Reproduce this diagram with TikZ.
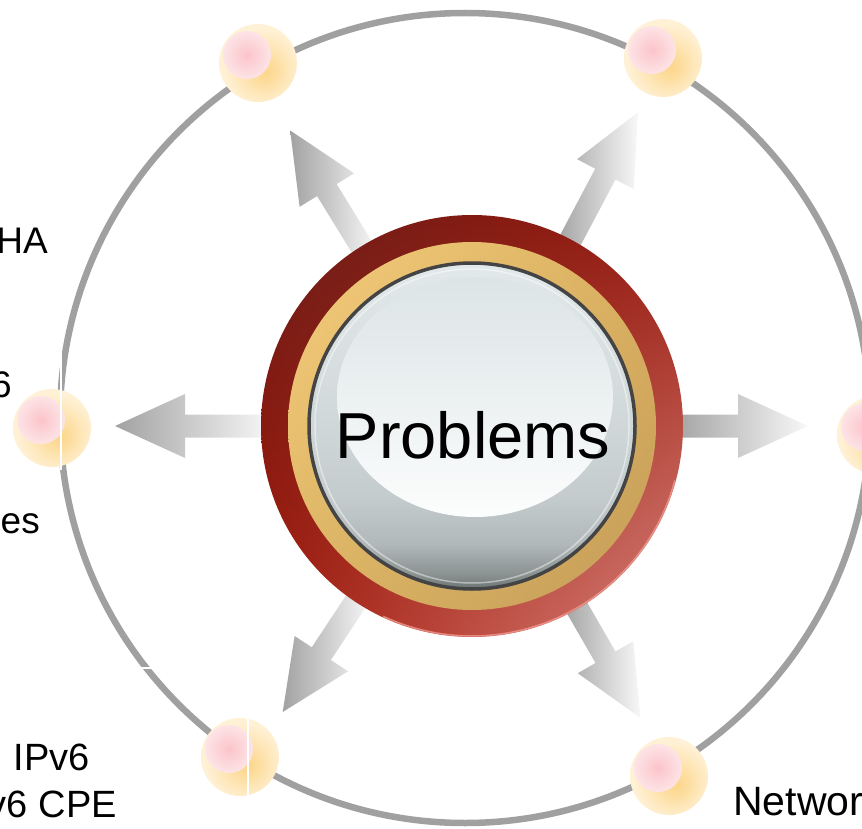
\documentclass[tikz,border=0pt]{standalone}
\usepackage{fontspec}
\setmainfont{Liberation Sans}
\usetikzlibrary{calc,shadings}

% palette
\definecolor{ringgray}{HTML}{A0A0A0}
\definecolor{arrowdark}{HTML}{A2A2A2}
\definecolor{arrowlight}{HTML}{F8F8F8}
\definecolor{bubA}{HTML}{FCD68A}
\definecolor{bubB}{HTML}{FDE0A6}
\definecolor{bubC}{HTML}{FFF1D6}
\definecolor{pinkA}{HTML}{FBC4CA}
\definecolor{pinkB}{HTML}{FDE4E6}
\definecolor{discA}{HTML}{6C7474}
\definecolor{discB}{HTML}{8A9292}
\definecolor{discC}{HTML}{B0B8B9}
\definecolor{discD}{HTML}{C3CBCC}
\definecolor{discE}{HTML}{CFD7D9}
\definecolor{discF}{HTML}{E2E9EB}
\definecolor{glossTop}{HTML}{DCE4E6}
\definecolor{glossBot}{HTML}{FCFDFD}
\definecolor{bezel}{HTML}{444444}
\definecolor{redUL}{HTML}{6A1C17}
\definecolor{redUR}{HTML}{9A1A0E}
\definecolor{redLL}{HTML}{A4180A}
\definecolor{redLR}{HTML}{D8837B}
\definecolor{redrim}{HTML}{F29A92}
\definecolor{goldUL}{HTML}{F4CC7C}
\definecolor{goldUR}{HTML}{DAB060}
\definecolor{goldLL}{HTML}{DCB464}
\definecolor{goldLR}{HTML}{C49C58}

% soft glow of the small marker balls (edge of the circle = 25bp)
\pgfdeclareradialshading{bubbleglow}{\pgfpoint{5bp}{-6bp}}{%
  color(0bp)=(bubA); color(10bp)=(bubB); color(25bp)=(bubC); color(50bp)=(bubC)}
\pgfdeclareradialshading{pinkglow}{\pgfpoint{0bp}{0bp}}{%
  color(0bp)=(pinkA); color(25bp)=(pinkB); color(50bp)=(pinkB)}
% face of the central button, dark at the bottom, pale at the top
\pgfdeclareverticalshading{discfill}{100bp}{%
  color(0bp)=(discA); color(25bp)=(discA); color(27.3bp)=(discB);
  color(31.9bp)=(discC); color(38.8bp)=(discD); color(50bp)=(discE);
  color(75bp)=(discF); color(100bp)=(discF)}

\tikzset{
  ring/.style={draw=ringgray, line width=6.5pt},
  arrowshade/.style={left color=arrowdark, right color=arrowlight},
  bubble/.style={circle, inner sep=0pt, minimum size=78pt, shade, shading=bubbleglow},
  hubred/.style={circle, inner sep=0pt, minimum size=422pt, shade,
    upper left=redUL, upper right=redUR, lower left=redLL, lower right=redLR},
  hubgold/.style={circle, inner sep=0pt, minimum size=368pt, shade,
    upper left=goldUL, upper right=goldUR, lower left=goldLL, lower right=goldLR},
  hubdisc/.style={circle, inner sep=0pt, minimum size=326pt, shade, shading=discfill,
    draw=bezel, line width=3.5pt},
  lbl/.style={inner sep=0pt, text=black},
}

\newcommand\markerball[3]{%
  \node[bubble] (#1) at (#2,#3) {};
  \shade[shading=pinkglow] ($(#1)+(-11,-8)$) circle[radius=24];
}

\begin{document}
\begin{tikzpicture}[x=1pt, y=-1pt]
\useasboundingbox (0,0) rectangle (862,829);

% outer orbit
\coordinate (orbit) at (465,418);
\draw[ring] (orbit) circle[radius=405];

% radiating arrows (angles measured clockwise from the right)
\coordinate (hubc) at (472,426);
\foreach \ang/\len in {180/357, -121.6/347, -62.1/355, 0/336, 123.5/343, 60/337}{
  \shade[arrowshade]
    ($(hubc)+(\ang:200)+(\ang+90:11.5)$) --
    ($(hubc)+(\ang:\len-70)+(\ang+90:11.5)$) --
    ($(hubc)+(\ang:\len-70)+(\ang+90:32)$) --
    ($(hubc)+(\ang:\len)$) --
    ($(hubc)+(\ang:\len-70)+(\ang-90:32)$) --
    ($(hubc)+(\ang:\len-70)+(\ang-90:11.5)$) --
    ($(hubc)+(\ang:200)+(\ang-90:11.5)$) -- cycle;
}

% central button
\node[hubred] (hub) at (hubc) {};
\draw[redrim, line width=1.5pt, opacity=0.8]
  ($(hub)+(15:210)$) arc[start angle=15, end angle=115, radius=210];
\node[hubgold] (hubgoldring) at (hub) {};
\node[hubdisc] (hubface) at (hub) {};
\shade[top color=glossTop, bottom color=glossBot] (475,397) ellipse[x radius=138, y radius=120];
\draw[white, opacity=0.45, line width=1.5pt] (hub) circle[radius=157];
\node[lbl, anchor=base, font=\fontsize{65}{78}\selectfont] (title) at (473,458) {Problems};

% marker balls on the orbit
\markerball{b1}{258}{63}
\markerball{b2}{663}{58}
\markerball{b3}{52}{428}
\markerball{b4}{876}{435}
\markerball{b5}{240}{757}
\markerball{b6}{669}{776}

% thin white seams across the orbit
\draw[white, line width=2pt] (61,352) -- (61,470);
\draw[white, line width=2pt] (248,716) -- (248,798);
\draw[white, line width=2pt] (138,668) -- (153,668);

% labels
\node[lbl, anchor=base east, font=\fontsize{37}{44}\selectfont] (l1) at (48,253) {HA};
\node[lbl, anchor=base east, font=\fontsize{37}{44}\selectfont] (l2) at (12,397) {6};
\node[lbl, anchor=base east, font=\fontsize{37}{44}\selectfont] (l3) at (40,533) {es};
\node[lbl, anchor=base, font=\fontsize{38}{46}\selectfont] (l4) at (52,770) {IPv6};
\node[lbl, anchor=base east, font=\fontsize{38}{46}\selectfont] (l5) at (117,817) {v6 CPE};
\node[lbl, anchor=base west, font=\fontsize{41}{49}\selectfont] (l6) at (733,815) {Networ};
\end{tikzpicture}
\end{document}
